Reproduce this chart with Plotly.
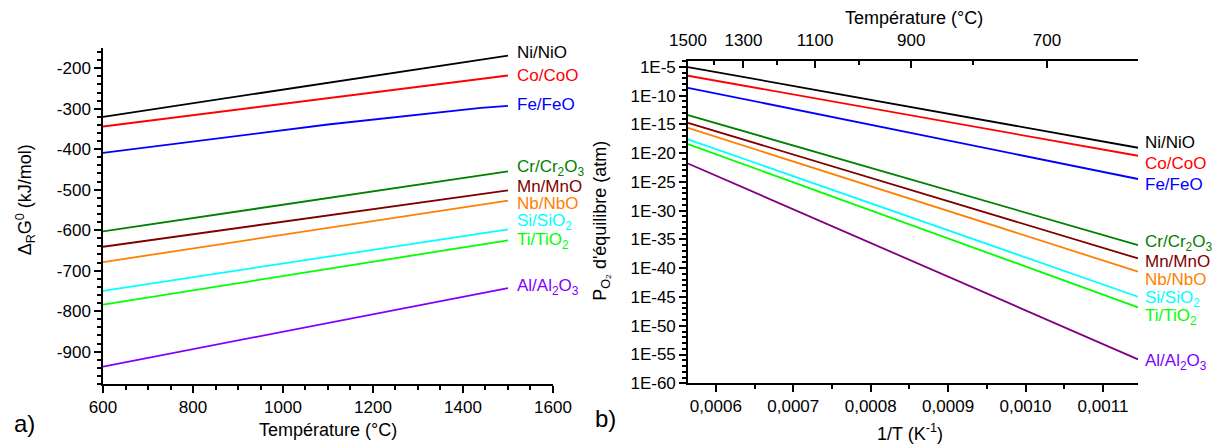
import numpy as np
import plotly.graph_objects as go

# ---------------- data ----------------
names = ["Ni/NiO", "Co/CoO", "Fe/FeO", "Cr/Cr<sub>2</sub>O<sub>3</sub>", "Mn/MnO", "Nb/NbO",
         "Si/SiO<sub>2</sub>", "Ti/TiO<sub>2</sub>", "Al/Al<sub>2</sub>O<sub>3</sub>"]
line_colors = ["#000000", "#FF0000", "#0000FF", "#008000", "#800000", "#FF8000",
               "#00FFFF", "#00FF00", "#8000FF"]
right_line_colors = ["#000000", "#FF0000", "#0000FF", "#008000", "#800000", "#FF8000",
                     "#00FFFF", "#00FF00", "#800080"]

# panel a: Delta_R G0 (kJ/mol) vs temperature (degC)
temp_a = [[600, 1500], [600, 1500], [600, 1100, 1440, 1500], [600, 1500], [600, 1500],
          [600, 1500], [600, 1500], [600, 1500], [600, 1500]]
dG_a = [[-320, -169], [-344, -218], [-409, -339, -298, -293], [-603, -455], [-641, -502],
        [-679, -527], [-750, -598], [-784, -625], [-937, -743]]

# panel b: log10(P_O2) at 1500 degC and 600 degC
temp_b = [1500, 600]
logp_b = [[-5.05, -19.07], [-6.56, -20.46], [-8.65, -24.5], [-13.39, -35.98], [-14.73, -38.3],
          [-15.6, -40.6], [-17.6, -44.96], [-18.43, -46.8], [-21.8, -55.83]]

left_y_ticks = [-900, -800, -700, -600, -500, -400, -300, -200]
right_y_exps = [-5, -10, -15, -20, -25, -30, -35, -40, -45, -50, -55, -60]
bottom_x_ticks = [0.0006, 0.0007, 0.0008, 0.0009, 0.0010, 0.0011]
bottom_x_minor = [0.00055, 0.00065, 0.00075, 0.00085, 0.00095, 0.00105, 0.00115]
top_major_T = [1500, 1300, 1100, 900, 700]
top_minor_T = [1400, 1200, 1000, 800, 600]

# label positions (layout)
label_y_a = [-161, -218, -289, -447, -493, -535, -581, -626, -741]
label_y_b = [-18.13, -21.78, -25.38, -35.6, -38.9, -41.9, -45.3, -48.5, -56.3]

FONT = "Liberation Sans, Arial, sans-serif"
K0 = 273.15

fig = go.Figure()

for i, n in enumerate(names):
    fig.add_trace(go.Scatter(x=temp_a[i], y=dG_a[i], mode="lines",
                             line=dict(color=line_colors[i], width=1.8),
                             xaxis="x", yaxis="y", showlegend=False))

inv_T = [1.0 / (t + K0) for t in temp_b]
for i, n in enumerate(names):
    fig.add_trace(go.Scatter(x=inv_T, y=np.power(10.0, logp_b[i]), mode="lines",
                             line=dict(color=right_line_colors[i], width=1.8),
                             xaxis="x2", yaxis="y2", showlegend=False))

xr2 = [1.0 / (1500 + K0), 1.0 / (600 + K0)]
# invisible traces so the top axes are drawn
for ax in ["x3", "x4"]:
    fig.add_trace(go.Scatter(x=xr2, y=[1e-30, 1e-30], mode="lines", opacity=0,
                             line=dict(width=0), hoverinfo="skip",
                             xaxis=ax, yaxis="y2", showlegend=False))

tickfont = dict(family=FONT, size=17, color="black")
titlefont = dict(family=FONT, size=18, color="black")
axis_common = dict(showline=True, linecolor="black", linewidth=1.5, showgrid=False,
                   zeroline=False, ticks="outside", tickcolor="black", tickwidth=1.5,
                   ticklen=7, tickfont=tickfont, automargin=False)
minor_common = dict(ticklen=4, tickcolor="black", tickwidth=1.5, ticks="outside")

fig.update_layout(
    width=1225, height=448,
    margin=dict(l=0, r=0, t=0, b=0, autoexpand=False),
    paper_bgcolor="white", plot_bgcolor="white",
    separators=",.",
    font=dict(family=FONT, color="black"),
    xaxis=dict(domain=[0.0841, 0.4514], anchor="y", range=[600, 1600], dtick=200, tick0=600,
               minor=dict(dtick=50, **minor_common), **axis_common),
    yaxis=dict(domain=[0.1429, 0.8929], anchor="x", range=[-980, -150],
               tickmode="array", tickvals=left_y_ticks, ticktext=[str(v) for v in left_y_ticks],
               minor=dict(dtick=20, tick0=0, **minor_common), **axis_common),
    xaxis2=dict(domain=[0.5616, 0.929], anchor="y2", range=xr2,
                tickmode="array", tickvals=bottom_x_ticks, tickformat=".4f",
                minor=dict(tickmode="array", tickvals=bottom_x_minor, **minor_common),
                **axis_common),
    yaxis2=dict(domain=[0.1444, 0.8638], anchor="x2", type="log", range=[-60, -4],
                tickmode="array", tickvals=[10.0 ** e for e in right_y_exps],
                ticktext=["1E%d" % e for e in right_y_exps],
                minor=dict(tickmode="array", tickvals=[10.0 ** e for e in range(-60, -3)],
                           **minor_common),
                **axis_common),
    xaxis3=dict(overlaying="x2", side="top", anchor="y2", range=xr2, automargin=False,
                tickmode="array", tickvals=[1.0 / (t + K0) for t in top_major_T],
                ticktext=[str(t) for t in top_major_T],
                showline=True, linecolor="black", linewidth=1.5, showgrid=False, zeroline=False,
                ticks="inside", tickcolor="black", tickwidth=1.5, ticklen=7, tickfont=tickfont,
                ticklabelstandoff=6),
    xaxis4=dict(overlaying="x2", side="top", anchor="y2", range=xr2, automargin=False,
                tickmode="array", tickvals=[1.0 / (t + K0) for t in top_minor_T],
                showticklabels=False, showline=False, showgrid=False, zeroline=False,
                ticks="inside", tickcolor="black", tickwidth=1.5, ticklen=4),
)

ann = []
for i, n in enumerate(names):
    c = line_colors[i]
    ann.append(dict(x=1500, y=label_y_a[i], xref="x", yref="y", text=n, showarrow=False,
                    xanchor="left", yanchor="middle", xshift=7,
                    font=dict(family=FONT, size=17, color=c)))
    ann.append(dict(x=xr2[1], y=label_y_b[i], xref="x2", yref="y2", text=n, showarrow=False,
                    xanchor="left", yanchor="middle", xshift=5,
                    font=dict(family=FONT, size=17, color=c)))

# axis titles and panel letters
titles = [
    ("Température (°C)", 0.2678, 0.040, 0),
    ("Δ<sub>R</sub>G<sup>0</sup> (kJ/mol)", 0.0204, 0.555, -90),
    ("1/T (K<sup>-1</sup>)", 0.743, 0.034, 0),
    ("Température (°C)", 0.746, 0.960, 0),
    ("P<sub>O₂</sub> d'équilibre (atm)", 0.4914, 0.507, -90),
]
for t, x, y, ang in titles:
    ann.append(dict(x=x, y=y, xref="paper", yref="paper", text=t, showarrow=False,
                    xanchor="center", yanchor="middle", textangle=ang,
                    font=titlefont))
ann.append(dict(x=0.0196, y=0.054, xref="paper", yref="paper", text="a)", showarrow=False,
                xanchor="center", yanchor="middle", font=dict(family=FONT, size=24, color="black")))
ann.append(dict(x=0.4946, y=0.065, xref="paper", yref="paper", text="b)", showarrow=False,
                xanchor="center", yanchor="middle", font=dict(family=FONT, size=24, color="black")))
fig.update_layout(annotations=ann)

fig.write_html("out.html", config={"displayModeBar": False},
               post_script="document.body.style.margin='0px';document.body.style.overflow='hidden';")
